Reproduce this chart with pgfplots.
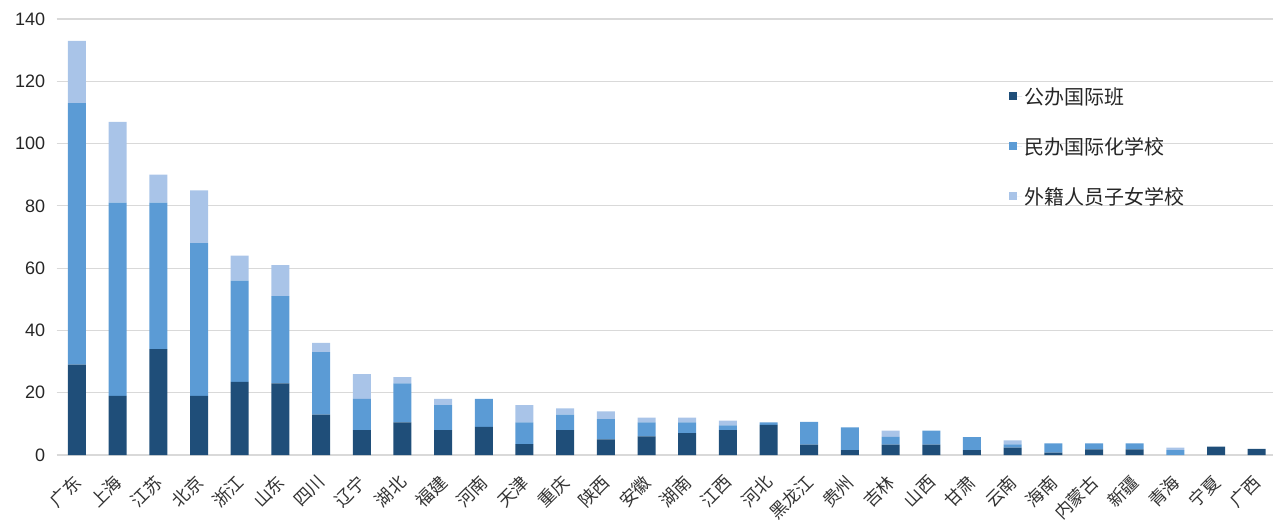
\documentclass[border=0pt]{standalone}
\usepackage{fontspec}
\setmainfont{Liberation Sans}
\newfontfamily\cjk{Noto Sans CJK SC}
\usepackage{pgfplots}
\pgfplotsset{compat=1.18}
\usepackage{pgfplotstable}

\definecolor{cDark}{HTML}{1F4E79}
\definecolor{cMid}{HTML}{5B9BD5}
\definecolor{cLight}{HTML}{A9C4E8}
\definecolor{cGrid}{HTML}{D9D9D9}

\pgfplotsset{sqlegend/.style={legend image code/.code={%
    \fill[##1] (0pt,-4pt) rectangle (8pt,4pt); \path (0pt,0pt) -- (13pt,0pt);}}}

% 公办国际班 / 民办国际化学校 / 外籍人员子女学校
\pgfplotstableread{
x  dark  mid   light
0  29    84    20
1  19    62    26
2  34    47    9
3  19    49    17
4  23.5  32.5  8
5  23    28    10
6  13    20    3
7  8     10    8
8  10.5  12.5  2
9  8     8     2
10 9     9     0
11 3.5   7     5.5
12 8     5     2
13 5     6.5   2.5
14 6     4.5   1.5
15 7     3.5   1.5
16 8     1.5   1.5
17 9.7   0.8   0
18 3.3   7.3   0
19 1.6   7.3   0
20 3.3   2.5   2
21 3.3   4.5   0
22 1.6   4.1   0
23 2.4   1     1.3
24 0.8   2.9   0
25 1.8   1.9   0
26 1.8   1.9   0
27 0     1.6   0.8
28 2.7   0     0
29 2.0   0     0
}\datatable

\begin{document}
\begin{tikzpicture}
\begin{axis}[
    at={(56.65pt,67pt)}, anchor=south west,
    scale only axis,
    width=1216.35pt, height=436pt,
    ybar stacked, bar width=18pt,
    xmin=-0.5, xmax=29.4,
    ymin=0, ymax=140,
    ytick={0,20,...,140},
    xtick={0,...,29},
    xticklabels={广东,上海,江苏,北京,浙江,山东,四川,辽宁,湖北,福建,河南,天津,重庆,陕西,安徽,湖南,江西,河北,黑龙江,贵州,吉林,山西,甘肃,云南,海南,内蒙古,新疆,青海,宁夏,广西},
    x tick label style={font=\cjk\fontsize{17.5}{17.5}\selectfont, text=black!80, inner sep=0pt, xshift=-5pt, yshift=-18pt, rotate=45, anchor=north east},
    y tick label style={font=\fontsize{18}{18}\selectfont, text=black!85, xshift=-8pt},
    /pgf/number format/assume math mode=true,
    ymajorgrids, grid style={cGrid, line width=1.2pt},
    axis line style={draw=none},
    tick style={draw=none},
    legend style={at={(0.7805,0.853)}, anchor=north west, draw=none, fill=none,
        font=\cjk\fontsize{20}{20}\selectfont, row sep=27.5pt, text=black!85},
    legend cell align=left,
]
\addplot[fill=cDark, draw=none, sqlegend] table[x=x, y=dark] {\datatable};
\addlegendentry{公办国际班}
\addplot[fill=cMid, draw=none, sqlegend] table[x=x, y=mid] {\datatable};
\addlegendentry{民办国际化学校}
\addplot[fill=cLight, draw=none, sqlegend] table[x=x, y=light] {\datatable};
\addlegendentry{外籍人员子女学校}
\end{axis}
\pgfresetboundingbox
\path (0,0) rectangle (1273pt,522pt);
\end{tikzpicture}
\end{document}
